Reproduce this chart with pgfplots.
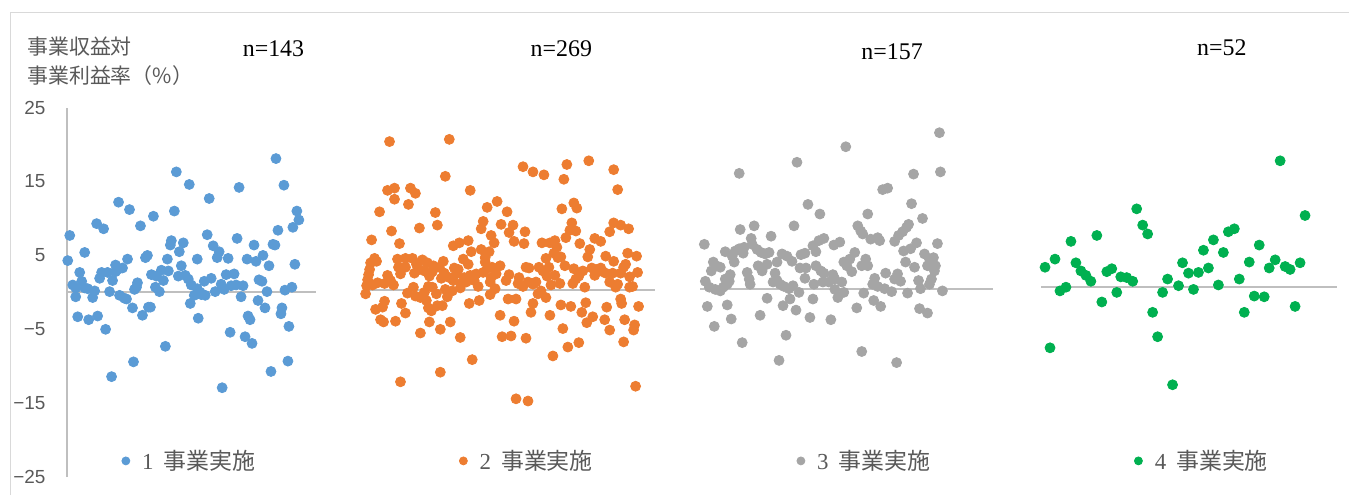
\documentclass[border=0pt]{standalone}
\usepackage{fontspec}
\usepackage{pgfplots}
\pgfplotsset{compat=1.18}
\setmainfont{Liberation Serif}
\newfontfamily\jp{Noto Sans CJK JP}
\newfontfamily\tickfont{Liberation Sans}

\definecolor{c1}{HTML}{5B9BD5}
\definecolor{c2}{HTML}{ED7D31}
\definecolor{c3}{HTML}{A5A5A5}
\definecolor{c4}{HTML}{00B050}
\definecolor{axgray}{HTML}{BFBFBF}
\definecolor{framegray}{HTML}{D9D9D9}
\definecolor{txtgray}{HTML}{595959}

\begin{document}
\begin{tikzpicture}
% x is in pixel positions (jitter only), y is the ratio in %
\begin{axis}[
    scale only axis,
    width=643.5pt, height=185.5pt,
    xmin=67, xmax=1354, ymin=-25, ymax=25,
    axis x line=none, axis y line=left,
    axis line style={draw=axgray, line width=1pt, -},
    ytick={-25,-15,-5,5,15,25},
    yticklabels={−25,−15,−5,5,15,25},
    major tick length=0pt,
    ytick style={draw=none},
    yticklabel style={font=\tickfont\fontsize{9.5}{10}\selectfont, text=txtgray,
        anchor=east, inner sep=0pt, xshift=-10.5pt},
    clip=false,
    legend columns=4,
    legend cell align=left,
    legend style={draw=none, fill=none, inner sep=0pt, outer sep=0pt,
        at={(axis description cs:0.0427,0.044)}, anchor=west,
        font=\fontsize{11.5}{13}\selectfont, text=txtgray,
        nodes={inner sep=0pt, text width=100pt, align=left},
        /tikz/every odd column/.append style={column sep=6pt},
        /tikz/every even column/.append style={column sep=59pt}},
    mark size=2.5pt,
]
% bounding box of the whole picture and the outer frame
\path (axis cs:0,39.555) rectangle (axis cs:1354,-27.426);
\draw[framegray, line width=0.5pt] (axis cs:11,-27.426) -- (axis cs:11,37.9) -- (axis cs:1354,37.9);

% base lines of the four groups
\addplot[axgray, line width=1pt, no marks, forget plot] coordinates {(67,0) (317,0)};
\addplot[axgray, line width=1pt, no marks, forget plot] coordinates {(365,0.38) (657,0.38)};
\addplot[axgray, line width=1pt, no marks, forget plot] coordinates {(703,0.52) (997,0.52)};
\addplot[axgray, line width=1pt, no marks, forget plot] coordinates {(1045,0.75) (1342,0.75)};

\addplot[only marks, mark=*, color=c1,
    legend image code/.code={\fill[c1] (0pt,0pt) circle (2pt);}] coordinates {
(277,18.1) (177,16.3) (190,14.6) (285,14.5) (240,14.2) (210,12.7) (119,12.2) (130,11.2) (175,11.0) (298,11.0)
(154,10.3) (300,9.8) (97,9.3) (141,9.0) (104,8.6) (294,8.8) (279,8.4) (70,7.7) (208,7.8) (238,7.3)
(172,7.0) (171,6.4) (184,6.7) (255,6.4) (214,6.3) (274,6.5) (276,6.4) (85,5.4) (180,5.5) (220,5.5)
(148,5.0) (146,4.7) (128,4.5) (168,4.5) (198,4.5) (218,4.7) (229,4.6) (248,4.5) (257,4.2) (264,5.0)
(68,4.3) (296,3.8) (270,3.6) (182,3.6) (116,3.7) (123,3.3) (118,3.1) (116,2.8) (80,2.7) (102,2.7)
(108,2.7) (100,1.9) (113,1.6) (152,2.4) (162,3.0) (169,2.9) (157,2.2) (164,1.6) (179,2.2) (186,2.3)
(189,1.8) (212,1.9) (205,1.5) (227,2.4) (235,2.5) (260,1.7) (263,1.5) (73,1.0) (82,1.5) (76,0.6)
(85,0.6) (88,0.5) (95,0.2) (93,-0.7) (76,-0.6) (110,0.1) (138,1.3) (137,0.7) (135,0.4) (120,-0.4)
(125,-0.8) (127,-0.9) (156,0.7) (160,0.1) (192,1.0) (198,0.5) (201,0.0) (206,-0.4) (195,-0.4) (202,-0.3)
(222,1.1) (225,0.4) (216,0.1) (232,0.9) (237,1.0) (244,0.9) (242,-0.6) (268,0.1) (286,0.3) (293,0.7)
(191,-1.5) (133,-2.1) (143,-3.1) (149,-2.0) (151,-2.0) (259,-1.1) (266,-2.1) (78,-3.3) (89,-3.7) (98,-3.2)
(106,-5.0) (199,-3.5) (249,-3.2) (251,-3.7) (283,-2.1) (282,-2.9) (290,-4.6) (231,-5.4) (246,-6.0) (253,-6.9)
(166,-7.3) (134,-9.4) (112,-11.4) (272,-10.7) (289,-9.3) (223,-12.9)
};
\addlegendentry{1\hspace{5pt}{\jp 事業実施}}

\addplot[only marks, mark=*, color=c2,
    legend image code/.code={\fill[c2] (0pt,0pt) circle (2pt);}] coordinates {
(391,20.4) (451,20.7) (447,15.7) (389,13.8) (396,14.1) (412,14.1) (417,13.4) (396,12.6) (410,11.9) (472,13.8)
(499,12.3) (489,11.5) (381,10.9) (437,10.8) (439,9.1) (421,8.7) (393,8.3) (485,9.6) (483,8.6) (503,9.2)
(373,7.1) (401,6.6) (455,6.3) (461,6.7) (470,7.0) (493,7.7) (496,6.7) (473,5.5) (483,5.8) (491,5.5)
(487,4.7) (376,4.6) (378,4.2) (371,3.1) (399,4.5) (407,4.6) (414,4.6) (424,4.4) (429,4.0) (435,3.6)
(445,4.2) (465,4.5) (456,3.3) (460,3.1) (487,4.1) (494,3.4) (502,3.6) (369,1.7) (368,0.9) (367,-0.2)
(379,1.3) (389,2.3) (392,1.6) (395,1.0) (386,1.2) (402,2.5) (407,3.4) (416,2.6) (421,3.1) (426,2.9)
(434,2.8) (441,3.4) (446,2.6) (451,2.0) (455,1.6) (458,2.5) (466,2.0) (472,2.3) (478,2.5) (485,2.7)
(493,2.0) (498,2.5) (409,-0.1) (415,0.7) (417,-0.5) (422,-0.7) (426,0.0) (430,0.8) (434,0.7) (438,-0.2)
(447,0.4) (449,-0.6) (454,0.2) (462,0.6) (468,1.4) (476,1.6) (480,0.8) (492,1.4) (497,0.5) (492,-0.3)
(428,-1.1) (430,-2.1) (433,-2.5) (439,-1.8) (444,-1.8) (471,-1.5) (481,-1.1) (377,-2.3) (386,-1.2) (384,-2.0)
(403,-1.5) (407,-2.8) (382,-3.7) (385,-4.0) (397,-3.9) (431,-4.0) (422,-5.5) (442,-5.0) (452,-4.0) (462,-6.1)
(502,-3.1) (504,-6.0) (474,-9.1) (442,-10.8) (402,-12.1)
(372,4.0) (370,2.4) (374,1.0) (400,3.4) (418,3.8) (431,2.2) (443,1.9) (463,1.2) (470,3.8) (489,3.2)
(525,17.0) (535,16.3) (546,15.9) (569,17.3) (591,17.8) (566,15.3) (616,16.6) (620,13.9) (576,12.1) (579,11.4)
(564,11.3) (509,10.9) (515,9.1) (511,8.1) (527,8.2) (516,6.9) (526,6.6) (544,6.7) (552,6.7) (557,7.0)
(559,6.1) (556,5.3) (560,4.7) (563,4.8) (548,4.6) (574,9.4) (572,8.4) (578,8.3) (568,7.4) (582,6.6)
(592,5.8) (590,4.8) (597,7.3) (603,6.9) (612,8.2) (616,9.4) (623,9.1) (631,8.6) (608,4.9) (616,4.2)
(630,5.3) (639,4.9) (628,3.8) (576,3.2) (585,2.9) (594,3.3) (597,2.3) (601,2.9) (608,2.6) (615,2.6)
(623,2.6) (632,2.1) (640,2.7) (620,1.1) (618,0.7) (632,0.7) (635,0.8) (528,3.4) (531,3.3) (521,2.0)
(520,1.2) (530,1.4) (535,1.1) (538,1.4) (541,3.4) (545,2.9) (551,3.4) (557,2.3) (562,1.2) (575,1.2)
(578,1.8) (587,0.7) (508,1.6) (511,2.4) (543,0.2) (548,-0.7) (540,-0.2) (535,-1.5) (533,-2.7) (510,-0.9)
(518,-0.9) (563,-1.7) (573,-1.9) (588,-1.4) (584,-2.7) (589,-4.1) (595,-3.3) (607,-3.7) (612,-5.1) (609,-2.0)
(623,-0.9) (624,-1.5) (641,-1.9) (627,-3.7) (637,-4.4) (636,-5.1) (626,-6.7) (552,-3.1) (565,-4.9) (516,-3.9)
(513,-5.9) (528,-6.2) (570,-7.4) (581,-6.8) (555,-8.6) (638,-12.7) (518,-14.4) (530,-14.7)
(599,3.1) (603,3.3) (605,2.8) (581,2.2) (567,3.6) (549,2.2) (525,0.8) (553,1.0) (612,1.4) (626,3.4)
};
\addlegendentry{2\hspace{5pt}{\jp 事業実施}}

\addplot[only marks, mark=*, color=c3,
    legend image code/.code={\fill[c3] (0pt,0pt) circle (2pt);}] coordinates {
(943,21.6) (849,19.7) (800,17.6) (742,16.1) (944,16.3) (917,16.0) (886,13.9) (891,14.1) (811,11.9) (823,10.6)
(915,12.0) (871,10.6) (926,10.0) (743,8.5) (757,9.0) (797,9.0) (861,9.0) (864,8.3) (866,7.9) (912,9.2)
(910,8.8) (906,8.2) (902,7.7) (898,6.9) (774,7.6) (707,6.5) (754,7.3) (755,6.5) (874,7.2) (881,7.4)
(883,7.0) (827,7.3) (822,7.0) (816,6.3) (837,6.4) (843,6.8) (941,6.6) (920,6.7) (914,5.9) (907,5.6)
(728,5.5) (738,5.6) (742,5.9) (747,6.1) (746,5.3) (735,4.9) (737,4.1) (760,5.8) (764,5.4) (768,5.2)
(772,5.4) (785,5.2) (790,4.9) (780,4.1) (795,4.2) (804,5.1) (808,5.3) (819,5.5) (858,5.4) (853,4.5)
(847,4.1) (850,3.6) (855,2.8) (869,4.5) (871,3.6) (909,4.1) (928,5.2) (933,4.5) (937,4.7) (931,3.6)
(939,3.6) (938,2.9) (935,1.8) (933,1.1) (918,3.4) (922,1.6) (716,4.1) (714,2.9) (719,3.6) (723,3.4)
(733,2.4) (732,1.5) (728,1.8) (750,2.7) (752,1.8) (753,1.1) (761,3.6) (765,2.9) (770,3.8) (778,2.6)
(780,1.6) (776,1.4) (783,1.1) (787,0.8) (792,0.5) (796,0.9) (802,0.0) (803,3.3) (809,3.3) (808,1.9)
(817,1.1) (819,3.6) (824,2.9) (827,2.6) (826,1.4) (832,1.4) (836,2.4) (838,1.8) (845,1.4) (838,0.4)
(841,-0.7) (847,0.0) (865,3.6) (878,1.9) (876,1.1) (881,0.8) (888,0.5) (895,0.1) (889,2.6) (901,2.5)
(904,1.5) (898,1.8) (708,1.5) (712,0.7) (718,0.4) (723,0.2) (726,0.7) (730,1.1) (946,0.2) (924,0.5)
(911,-0.1) (867,-0.1) (877,-1.1) (884,-1.9) (860,-2.1) (816,-0.9) (793,-0.9) (786,-1.8) (799,-2.4) (770,-0.8)
(730,-1.7) (710,-1.9) (734,-3.6) (763,-3.1) (813,-3.4) (834,-3.7) (717,-4.6) (789,-5.8) (745,-6.8) (782,-9.2)
(865,-8.0) (900,-9.5) (923,-2.2) (931,-2.8)
};
\addlegendentry{3\hspace{5pt}{\jp 事業実施}}

\addplot[only marks, mark=*, color=c4,
    legend image code/.code={\fill[c4] (0pt,0pt) circle (2pt);}] coordinates {
(1285,17.8) (1310,10.4) (1141,11.3) (1147,9.1) (1152,7.9) (1101,7.7) (1075,6.9) (1059,4.5) (1049,3.4) (1080,4.0)
(1085,2.9) (1090,2.3) (1095,1.5) (1111,2.8) (1116,3.2) (1125,2.1) (1131,2.0) (1137,1.5) (1064,0.2) (1070,0.7)
(1106,-1.3) (1121,0.0) (1054,-7.5) (1157,-2.7) (1162,-6.0) (1177,-12.5) (1167,0.0) (1172,1.8) (1183,0.9) (1187,4.0)
(1193,2.6) (1203,2.7) (1198,0.4) (1213,3.3) (1208,5.7) (1218,7.1) (1228,5.4) (1223,1.0) (1233,8.2) (1239,8.6)
(1244,1.8) (1254,4.1) (1264,6.4) (1259,-0.5) (1249,-2.7) (1269,-0.6) (1274,3.3) (1280,4.4) (1290,3.5) (1295,3.1)
(1305,4.0) (1300,-1.9)
};
\addlegendentry{4\hspace{5pt}{\jp 事業実施}}

% axis caption and group sizes
\node[anchor=west, inner sep=0pt, text=txtgray, font=\jp\fontsize{10.5}{12}\selectfont] at (axis cs:27,33.22) {事業収益対};
\node[anchor=west, inner sep=0pt, text=txtgray, font=\jp\fontsize{10.5}{12}\selectfont] at (axis cs:27,29.4) {事業利益率（\%）};
\node[inner sep=0pt, font=\fontsize{12}{14}\selectfont] at (axis cs:274.5,32.95) {n=143};
\node[inner sep=0pt, font=\fontsize{12}{14}\selectfont] at (axis cs:563.5,32.95) {n=269};
\node[inner sep=0pt, font=\fontsize{12}{14}\selectfont] at (axis cs:895.5,32.55) {n=157};
\node[inner sep=0pt, font=\fontsize{12}{14}\selectfont] at (axis cs:1226.5,33.09) {n=52};
\end{axis}
\end{tikzpicture}
\end{document}
